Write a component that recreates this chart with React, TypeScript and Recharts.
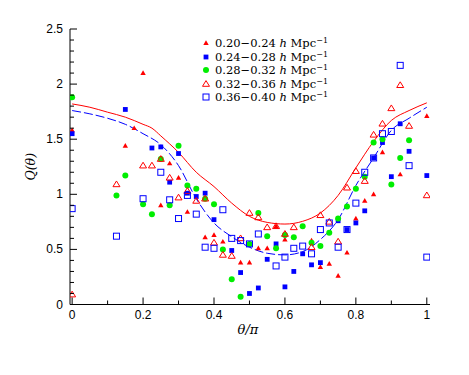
import React from 'react';
import { ComposedChart, Scatter, Line, XAxis, YAxis, Legend, Label } from 'recharts';

type Pt = [number, number];

const binLabels = ['0.20−0.24', '0.24−0.28', '0.28−0.32', '0.32−0.36', '0.36−0.40'];

const xTicks = [0, 0.1, 0.2, 0.3, 0.4, 0.5, 0.6, 0.7, 0.8, 0.9, 1];
const yTicks = [
  0, 0.1, 0.2, 0.3, 0.4, 0.5, 0.6, 0.7, 0.8, 0.9, 1, 1.1, 1.2, 1.3, 1.4, 1.5, 1.6, 1.7, 1.8, 1.9,
  2, 2.1, 2.2, 2.3, 2.4, 2.5,
];

// 0.20-0.24 (filled red triangles)
const bin1: Pt[] = [
  [0, 1.58], [0.15, 1.44], [0.175, 1.6], [0.2, 2.1], [0.25, 0.9], [0.275, 1.28], [0.3, 1.15],
  [0.325, 0.84], [0.375, 0.61], [0.4, 0.63], [0.425, 0.57], [0.475, 0.38], [0.5, 0.38],
  [0.525, 0.51], [0.55, 0.51], [0.575, 0.71], [0.6, 0.59], [0.675, 0.58], [0.7, 0.34],
  [0.725, 0.37], [0.75, 0.26], [0.775, 0.47], [0.8, 0.78], [0.825, 0.94], [0.85, 1.0],
  [0.875, 1.38], [0.925, 1.18], [1, 1.71],
];

// 0.24-0.28 (filled blue squares)
const bin2: Pt[] = [
  [0, 1.55], [0.15, 1.77], [0.225, 1.42], [0.25, 1.43], [0.275, 1.11], [0.3, 1.37], [0.325, 1.01],
  [0.35, 0.98], [0.375, 1.01], [0.4, 0.77], [0.45, 0.49], [0.475, 0.29], [0.5, 0.1], [0.525, 0.15],
  [0.55, 0.41], [0.575, 0.55], [0.6, 0.16], [0.625, 0.3], [0.65, 0.46], [0.675, 0.36], [0.7, 0.38],
  [0.75, 0.76], [0.775, 0.68], [0.8, 0.74], [0.825, 0.85], [0.85, 1.33], [0.875, 1.47], [0.9, 1.16],
  [0.925, 1.64], [0.95, 1.39], [1, 1.17],
];

// 0.28-0.32 (green circles)
const bin3: Pt[] = [
  [0, 1.88], [0.125, 0.99], [0.15, 1.17], [0.2, 0.91], [0.225, 0.82], [0.25, 1.32], [0.275, 0.9],
  [0.3, 1.44], [0.325, 1.08], [0.35, 1.05], [0.375, 0.96], [0.4, 0.91], [0.425, 0.5], [0.45, 0.23],
  [0.475, 0.07], [0.5, 0.55], [0.525, 0.83], [0.55, 0.62], [0.575, 0.51], [0.6, 0.63], [0.625, 0.61],
  [0.65, 0.71], [0.675, 0.56], [0.7, 0.53], [0.725, 0.65], [0.75, 0.78], [0.775, 0.89], [0.8, 1.05],
  [0.825, 1.16], [0.85, 1.47], [0.875, 1.5], [0.9, 1.09], [0.925, 1.33], [0.95, 1.49],
];

// 0.32-0.36 (open red triangles)
const bin4: Pt[] = [
  [0, 0.09], [0.125, 1.09], [0.2, 1.26], [0.225, 1.26], [0.25, 1.32], [0.275, 1.15], [0.3, 0.97],
  [0.325, 1.03], [0.35, 0.94], [0.375, 0.96], [0.4, 0.56], [0.425, 0.45], [0.45, 0.44], [0.475, 0.6],
  [0.5, 0.83], [0.525, 0.79], [0.55, 0.7], [0.575, 0.71], [0.6, 0.64], [0.625, 0.7], [0.675, 0.52],
  [0.7, 0.81], [0.725, 0.75], [0.75, 0.57], [0.775, 1.06], [0.8, 1.21], [0.825, 1.12], [0.85, 1.54],
  [0.875, 1.64], [0.9, 1.78], [0.925, 1.99], [0.95, 1.62], [1, 0.99],
];

// 0.36-0.40 (open blue squares)
const bin5: Pt[] = [
  [0, 0.87], [0.125, 0.62], [0.2, 0.96], [0.25, 1.2], [0.275, 0.95], [0.3, 0.78], [0.325, 0.99],
  [0.35, 0.82], [0.375, 0.52], [0.4, 0.51], [0.425, 0.86], [0.45, 0.6], [0.475, 0.58], [0.5, 0.55],
  [0.525, 0.64], [0.575, 0.35], [0.6, 0.43], [0.625, 0.51], [0.65, 0.53], [0.675, 0.46], [0.7, 0.68],
  [0.725, 0.74], [0.75, 0.52], [0.775, 0.68], [0.8, 0.92], [0.825, 1.2], [0.85, 1.33], [0.875, 1.55],
  [0.9, 1.57], [0.925, 2.17], [0.95, 1.26], [1, 0.43],
];

// model curves
const redCurve: Pt[] = [
  [0, 1.82], [0.05, 1.79], [0.1, 1.745], [0.15, 1.7], [0.2, 1.635], [0.225, 1.6], [0.25, 1.53],
  [0.3, 1.38], [0.35, 1.2], [0.4, 1.07], [0.45, 0.92], [0.5, 0.8], [0.55, 0.745], [0.6, 0.73],
  [0.65, 0.755], [0.7, 0.83], [0.75, 0.99], [0.8, 1.24], [0.85, 1.48], [0.9, 1.67], [0.95, 1.76],
  [1, 1.83],
];
const blueCurve: Pt[] = [
  [0, 1.76], [0.05, 1.73], [0.1, 1.69], [0.15, 1.635], [0.2, 1.55], [0.25, 1.45], [0.3, 1.26],
  [0.35, 0.96], [0.4, 0.74], [0.45, 0.615], [0.5, 0.52], [0.55, 0.465], [0.6, 0.45], [0.65, 0.48],
  [0.7, 0.59], [0.75, 0.77], [0.8, 1.08], [0.85, 1.33], [0.9, 1.58], [0.95, 1.69], [1, 1.79],
];

const RED = '#ff0000';
const BLUE = '#0000ff';
const GREEN = '#00ee00';
const tickFont = 'Liberation Sans, Arial, sans-serif';
const serif = 'DejaVu Serif, serif';

const toRows = (pts: Pt[]) => pts.map(([x, y]) => ({ x, y }));
const isMajor = (v: number, step: number) => Math.abs(v / step - Math.round(v / step)) < 1e-6;

const FilledTri = ({ cx, cy }: any) => (
  <path d={`M${cx},${cy - 2.8}L${cx + 2.7},${cy + 1.9}L${cx - 2.7},${cy + 1.9}Z`} fill={RED} />
);
const OpenTri = ({ cx, cy }: any) => (
  <path
    d={`M${cx},${cy - 3.4}L${cx + 3.5},${cy + 2.3}L${cx - 3.5},${cy + 2.3}Z`}
    fill="none"
    stroke={RED}
    strokeWidth={1}
  />
);
const FilledSq = ({ cx, cy }: any) => <rect x={cx - 2.4} y={cy - 2.4} width={4.8} height={4.8} fill={BLUE} />;
const OpenSq = ({ cx, cy }: any) => (
  <rect x={cx - 3} y={cy - 3} width={6} height={6} fill="none" stroke={BLUE} strokeWidth={1} />
);
const Dot = ({ cx, cy }: any) => <circle cx={cx} cy={cy} r={3} fill={GREEN} />;

const markers = [FilledTri, FilledSq, Dot, OpenTri, OpenSq];
const series = [bin1, bin2, bin3, bin4, bin5];

const BottomTick = ({ x, y, payload }: any) => {
  const major = isMajor(payload.value, 0.2);
  return (
    <g>
      <line x1={x} y1={y} x2={x} y2={y - (major ? 7 : 4)} stroke="#000" />
      {major && (
        <text x={x} y={y + 14} textAnchor="middle" fontSize={12} fontFamily={tickFont} fill="#000">
          {String(payload.value)}
        </text>
      )}
    </g>
  );
};
const TopTick = ({ x, y, payload }: any) => {
  const major = isMajor(payload.value, 0.2);
  return <line x1={x} y1={y} x2={x} y2={y + (major ? 7 : 4)} stroke="#000" />;
};
const LeftTick = ({ x, y, payload }: any) => {
  const major = isMajor(payload.value, 0.5);
  return (
    <g>
      <line x1={x} y1={y} x2={x + (major ? 7 : 4)} y2={y} stroke="#000" />
      {major && (
        <text x={x - 7} y={y + 4} textAnchor="end" fontSize={12} fontFamily={tickFont} fill="#000">
          {String(payload.value)}
        </text>
      )}
    </g>
  );
};
const RightTick = ({ x, y, payload }: any) => {
  const major = isMajor(payload.value, 0.5);
  return <line x1={x} y1={y} x2={x - (major ? 7 : 4)} y2={y} stroke="#000" />;
};

const LegendBox = () => (
  <div style={{ fontFamily: serif, fontSize: 11.5, color: '#000' }}>
    {binLabels.map((label, i) => {
      const M = markers[i];
      return (
        <div key={label} style={{ display: 'flex', alignItems: 'center', height: 13.5, whiteSpace: 'nowrap' }}>
          <svg width={10} height={10} style={{ marginRight: 4 }}>
            <M cx={5} cy={5} />
          </svg>
          <span>
            {label} <i>h</i> Mpc
            <span style={{ fontSize: 8, position: 'relative', top: -4 }}>−1</span>
          </span>
        </div>
      );
    })}
  </div>
);

export default function App() {
  return (
    <ComposedChart width={453} height={360} margin={{ top: 21, right: 31, left: 0, bottom: 0 }}>
      <XAxis
        xAxisId="b"
        dataKey="x"
        type="number"
        domain={[-0.006, 1.009]}
        allowDataOverflow
        ticks={xTicks}
        interval={0}
        height={63.5}
        tickSize={0}
        tickMargin={0}
        tickLine={false}
        tick={<BottomTick />}
        axisLine={{ stroke: '#000' }}
      >
        <Label
          content={({ viewBox }: any) => (
            <text
              x={viewBox.x + viewBox.width / 2 - 2}
              y={viewBox.y + 29}
              textAnchor="middle"
              fontFamily={serif}
              fontStyle="italic"
              fontSize={13}
              fill="#000"
            >
              θ/π
            </text>
          )}
        />
      </XAxis>
      <XAxis
        xAxisId="t"
        orientation="top"
        dataKey="x"
        type="number"
        domain={[-0.006, 1.009]}
        allowDataOverflow
        ticks={xTicks}
        interval={0}
        height={0}
        tickSize={0}
        tickMargin={0}
        tickLine={false}
        tick={<TopTick />}
        axisLine={{ stroke: '#000' }}
      />
      <YAxis
        yAxisId="l"
        dataKey="y"
        type="number"
        domain={[0, 2.5]}
        allowDataOverflow
        ticks={yTicks}
        interval={0}
        width={62}
        tickSize={0}
        tickMargin={0}
        tickLine={false}
        tick={<LeftTick />}
        axisLine={{ stroke: '#000' }}
      >
        <Label
          content={({ viewBox }: any) => {
            const cy = viewBox.y + viewBox.height / 2;
            return (
              <text
                x={22}
                y={cy}
                transform={`rotate(-90, 22, ${cy})`}
                textAnchor="middle"
                dominantBaseline="central"
                fontFamily={serif}
                fontStyle="italic"
                fontSize={12.5}
                fill="#000"
              >
                Q(θ)
              </text>
            );
          }}
        />
      </YAxis>
      <YAxis
        yAxisId="r"
        orientation="right"
        dataKey="y"
        type="number"
        domain={[0, 2.5]}
        allowDataOverflow
        ticks={yTicks}
        interval={0}
        width={0}
        tickSize={0}
        tickMargin={0}
        tickLine={false}
        tick={<RightTick />}
        axisLine={{ stroke: '#000' }}
      />
      <Line
        xAxisId="b"
        yAxisId="l"
        data={toRows(redCurve)}
        dataKey="y"
        type="monotone"
        stroke={RED}
        strokeWidth={1}
        dot={false}
        isAnimationActive={false}
      />
      <Line
        xAxisId="b"
        yAxisId="l"
        data={toRows(blueCurve)}
        dataKey="y"
        type="monotone"
        stroke={BLUE}
        strokeWidth={1}
        strokeDasharray="9 3"
        dot={false}
        isAnimationActive={false}
      />
      {series.map((pts, i) => {
        const M = markers[i];
        return (
          <Scatter
            key={binLabels[i]}
            xAxisId="b"
            yAxisId="l"
            data={toRows(pts)}
            shape={(p: any) => <M cx={p.cx} cy={p.cy} />}
            isAnimationActive={false}
          />
        );
      })}
      <Legend
        layout="vertical"
        align="center"
        verticalAlign="middle"
        wrapperStyle={{ left: 193, top: 28.5, width: 175 }}
        content={() => <LegendBox />}
      />
    </ComposedChart>
  );
}
